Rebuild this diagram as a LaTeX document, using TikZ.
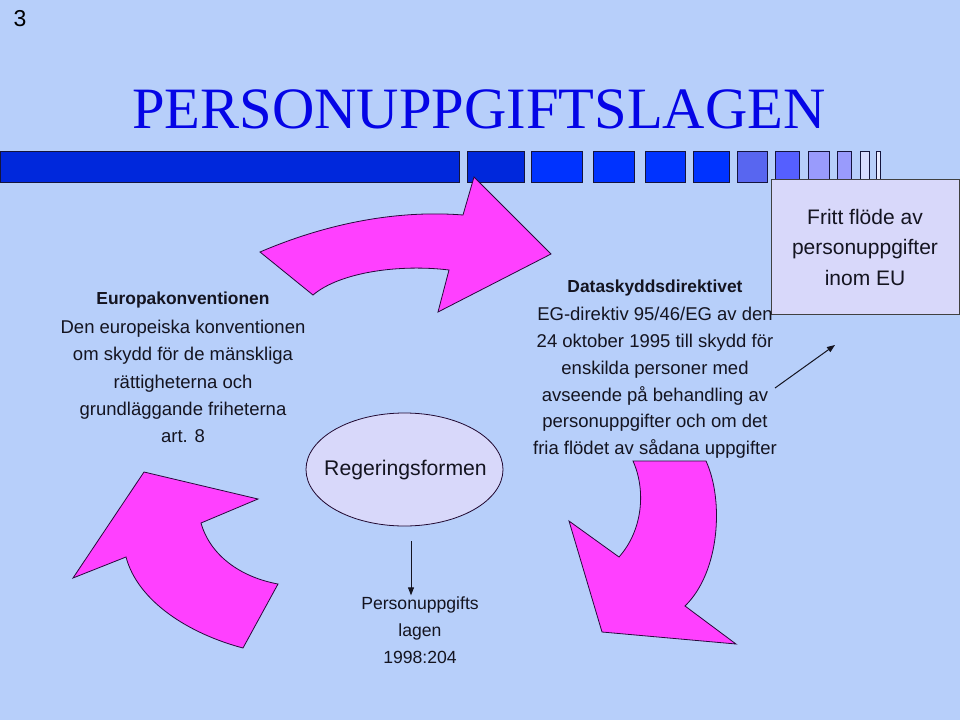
\documentclass[tikz,border=0pt]{standalone}
\usepackage{fontspec}
\setmainfont{Liberation Sans}
\newfontfamily\titlefont{Liberation Serif}
\usetikzlibrary{arrows.meta,shapes.geometric}
\definecolor{bg}{RGB}{183,207,250}
\definecolor{barA}{RGB}{0,40,220}
\definecolor{barB}{RGB}{0,51,255}
\definecolor{barC}{RGB}{88,102,240}
\definecolor{barD}{RGB}{85,95,255}
\definecolor{barE}{RGB}{153,155,252}
\definecolor{barF}{RGB}{215,220,255}
\definecolor{barG}{RGB}{232,236,255}
\definecolor{barline}{RGB}{20,20,60}
\definecolor{pinkA}{RGB}{255,64,255}
\definecolor{outl}{RGB}{40,10,60}
\definecolor{lav}{RGB}{216,216,250}
\definecolor{txt}{RGB}{20,20,32}
\definecolor{titleblue}{RGB}{5,5,230}
\tikzset{
  barbox/.style={fill=#1, draw=barline, line width=1pt},
  curvearrow/.style={fill=pinkA, draw=outl, line width=0.8pt, line join=miter},
  bodytext/.style={text=txt, align=center, inner sep=0pt, font=\fontsize{18.5}{27.2}\selectfont},
  headtext/.style={text=txt, align=center, inner sep=0pt, font=\bfseries\fontsize{17.4}{20}\selectfont},
  lavbox/.style={fill=lav, draw=black!75, line width=0.8pt},
  thinarrow/.style={draw=txt, line width=1pt, -{Triangle[length=8pt,width=6pt]}}
}
\begin{document}
\begin{tikzpicture}[x=1pt,y=-1pt]
\fill[bg] (0,0) rectangle (960,720);
\useasboundingbox (0,0) rectangle (960,720);

% page number
\node[text=black, font=\fontsize{23}{26}\selectfont, inner sep=0pt] (pnum) at (20,19) {3};

% title
\node[text=titleblue, font=\titlefont\fontsize{58.6}{64}\selectfont, inner sep=0pt, anchor=base] (title) at (479,128) {PERSONUPPGIFTSLAGEN};

% header bar
\draw[barbox=barA] (0,151) rectangle (459,182);
\draw[barbox=barA] (467,151) rectangle (524,182);
\draw[barbox=barB] (531,151) rectangle (582,182);
\draw[barbox=barB] (593,151) rectangle (634,182);
\draw[barbox=barB] (645,151) rectangle (685,182);
\draw[barbox=barB] (693,151) rectangle (729,182);
\draw[barbox=barC] (737,151) rectangle (767,182);
\draw[barbox=barD] (775,151) rectangle (799,182);
\draw[barbox=barE] (808,151) rectangle (829,182);
\draw[barbox=barE] (837,151) rectangle (851,182);
\draw[barbox=barF] (860,151) rectangle (869,182);
\draw[barbox=barG] (876,151) rectangle (880,182);

% top curved arrow
\draw[curvearrow] (260,252) .. controls (330,222) and (400,210) .. (463,215)
  -- (474,177) -- (551,254) -- (438,312) -- (449,270)
  .. controls (400,264) and (340,272) .. (313,295) -- cycle;

% right curved arrow
\draw[curvearrow] (633,461) -- (706,461)
  .. controls (724,500) and (720,572) .. (685,606)
  -- (736,644) -- (602,632) -- (569,521) -- (619,557)
  .. controls (643,530) and (646,490) .. cycle;

% left curved arrow
\draw[curvearrow] (144,472) -- (258,499) -- (201,523)
  .. controls (210,555) and (240,577) .. (278,584)
  -- (243,648)
  .. controls (190,634) and (138,602) .. (126,557)
  -- (73,578) -- cycle;

% fritt flode box
\node[lavbox, minimum width=188, minimum height=135, inner sep=0pt] (fritt) at (865,246.5) {};
\node[text=txt, align=center, inner sep=0pt, font=\fontsize{21}{30.5}\selectfont] (frittxt) at (865,247) {Fritt flöde av\\personuppgifter\\inom EU};

% left text
\node[headtext] (euhead) at (183,300) {Europakonventionen};
\node[bodytext] (eubody) at (183,381.5) {Den europeiska konventionen\\om skydd för de mänskliga\\rättigheterna och\\grundläggande friheterna\\art. 8};

% middle text
\node[headtext] (dshead) at (655,288) {Dataskyddsdirektivet};
\node[bodytext, font=\fontsize{18.5}{26.8}\selectfont] (dsbody) at (655,383) {EG-direktiv 95/46/EG av den\\24 oktober 1995 till skydd för\\enskilda personer med\\avseende på behandling av\\personuppgifter och om det\\fria flödet av sådana uppgifter};

% ellipse
\node[ellipse, fill=lav, draw=outl!80!black, line width=0.8pt, minimum width=197, minimum height=113, inner sep=0pt] (rf) at (404.5,469.5) {};
\node[text=txt, inner sep=0pt, font=\fontsize{21.2}{25}\selectfont] (rftxt) at (405.5,470) {Regeringsformen};

% bottom text
\node[text=txt, align=center, inner sep=1pt, font=\fontsize{17.6}{27}\selectfont] (pul) at (420,630) {Personuppgifts\\lagen\\1998:204};

% connectors
\coordinate (vs) at (411,541);
\draw[thinarrow] (vs) -- (vs |- pul.north);
\coordinate (ds) at (775,388);
\coordinate (de) at (835,345);
\draw[thinarrow] (ds) -- (de);
\end{tikzpicture}
\end{document}
